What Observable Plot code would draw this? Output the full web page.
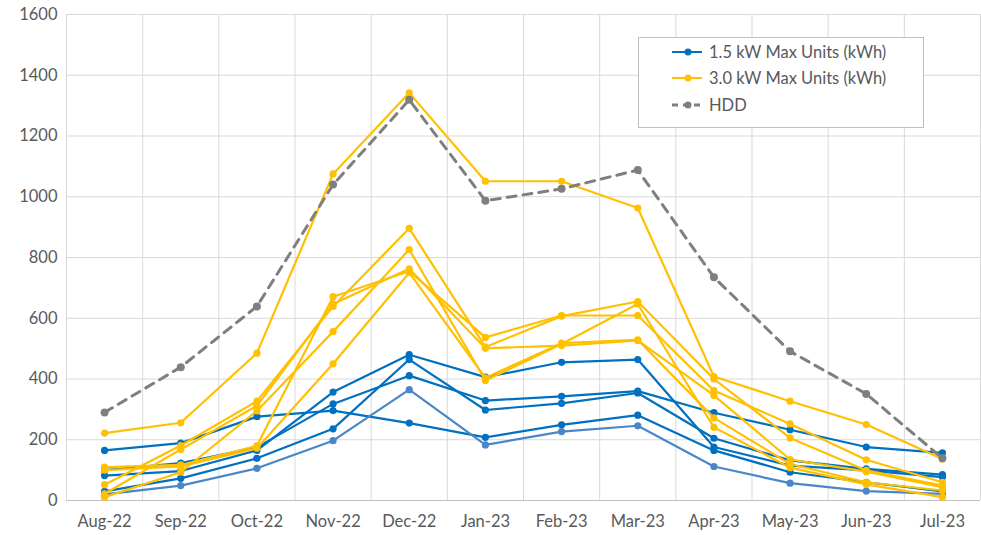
<!DOCTYPE html>
<html>
<head>
<meta charset="utf-8">
<script src="https://cdn.jsdelivr.net/npm/d3@7"></script>
<script src="https://cdn.jsdelivr.net/npm/@observablehq/plot@0.6"></script>
<style>
  html, body { margin: 0; padding: 0; background: #fff; }
  #wrap { position: relative; width: 981px; height: 535px; font-family: Lato, "Open Sans", sans-serif; }
  #legend { position: absolute; left: 638px; top: 37px; width: 286px; height: 91px; border: 1px solid #bfbfbf; background: #fff; box-sizing: border-box; }
  .row { position: absolute; left: 0; height: 20px; display: flex; align-items: center; font-size: 16.5px; color: #595959; white-space: nowrap; }
  .row svg { margin-left: 33px; margin-right: 7px; }
</style>
</head>
<body>
<div id="wrap"></div>
<script>
const months = ["Aug-22","Sep-22","Oct-22","Nov-22","Dec-22","Jan-23","Feb-23","Mar-23","Apr-23","May-23","Jun-23","Jul-23"];
const yTicks = [0, 200, 400, 600, 800, 1000, 1200, 1400, 1600];

// 1.5 kW Max Units (kWh)
const blueA = [82, 97, 165, 357, 480, 406, 455, 464, 176, 115, 99, 77];
const blueB = [30, 73, 139, 236, 464, 298, 320, 354, 205, 132, 104, 85];
const blueC = [100, 123, 175, 318, 411, 329, 343, 360, 289, 233, 176, 157];
const blueD = [165, 189, 276, 296, 255, 208, 249, 281, 165, 93, 60, 30];
const blueE = [20, 49, 106, 197, 365, 183, 227, 246, 112, 57, 31, 22];

// 3.0 kW Max Units (kWh)
const yellow1 = [222, 256, 485, 1075, 1342, 1051, 1051, 963, 408, 327, 250, 137];
const yellow2 = [110, 117, 180, 671, 755, 537, 609, 609, 362, 252, 134, 60];
const yellow3 = [52, 181, 327, 639, 896, 505, 607, 655, 400, 206, 99, 49];
const yellow4 = [22, 168, 312, 647, 763, 501, 510, 527, 346, 135, 95, 44];
const yellow5 = [100, 112, 172, 450, 750, 404, 518, 529, 272, 120, 60, 33];
const yellow6 = [11, 93, 295, 556, 826, 395, 515, 647, 241, 108, 53, 11];

// HDD
const hdd = [290, 439, 639, 1040, 1319, 987, 1026, 1088, 735, 491, 351, 139];

const BLUE = "#0070C0", BLUE_LIGHT = "#4A86C8", YELLOW = "#FFC000", GRAY = "#7F7F7F";

const blueSeries = [[blueA, BLUE], [blueB, BLUE], [blueC, BLUE], [blueD, BLUE], [blueE, BLUE_LIGHT]];
const yellowSeries = [yellow1, yellow2, yellow3, yellow4, yellow5, yellow6].map(s => [s, YELLOW]);

const toRows = (vals, id) => vals.map((v, i) => ({i, v, id}));
const gridX = months.map((_, i) => i - 0.5).concat([months.length - 0.5]);

const marks = [
  Plot.ruleY(yTicks, {stroke: "#d9d9d9", strokeWidth: 1}),
  Plot.ruleX(gridX, {stroke: "#d9d9d9", strokeWidth: 1}),
  Plot.ruleY([0], {stroke: "#bfbfbf", strokeWidth: 1.2})
];
blueSeries.concat(yellowSeries).forEach(([vals, color], k) => {
  const rows = toRows(vals, k);
  marks.push(Plot.line(rows, {x: "i", y: "v", stroke: color, strokeWidth: 2.2}));
  marks.push(Plot.dot(rows, {x: "i", y: "v", fill: color, r: 3.6}));
});
const hddRows = toRows(hdd, "hdd");
marks.push(Plot.line(hddRows, {x: "i", y: "v", stroke: GRAY, strokeWidth: 3, strokeDasharray: "9,7"}));
marks.push(Plot.dot(hddRows, {x: "i", y: "v", fill: GRAY, r: 4}));

const chart = Plot.plot({
  width: 981,
  height: 535,
  marginLeft: 66,
  marginRight: 1,
  marginTop: 14,
  marginBottom: 35,
  style: {fontFamily: "Lato, 'Open Sans', sans-serif", fontSize: "16.5px", color: "#595959", background: "#fff"},
  x: {domain: [-0.5, months.length - 0.5], ticks: months.map((_, i) => i), tickFormat: i => months[i], tickSize: 0, tickPadding: 15, label: null},
  y: {domain: [0, 1600], ticks: yTicks, tickFormat: d => String(d), tickSize: 0, tickPadding: 9, label: null},
  marks
});
const wrap = document.getElementById("wrap");
wrap.appendChild(chart);

// Legend
const legend = document.createElement("div");
legend.id = "legend";
const items = [
  {label: "1.5 kW Max Units (kWh)", color: BLUE, dash: null, top: 4},
  {label: "3.0 kW Max Units (kWh)", color: YELLOW, dash: null, top: 30},
  {label: "HDD", color: GRAY, dash: "6,5", top: 57}
];
items.forEach(it => {
  const row = document.createElement("div");
  row.className = "row";
  row.style.top = it.top + "px";
  const s = d3.create("svg").attr("width", 30).attr("height", 12);
  s.append("line").attr("x1", 0).attr("x2", 30).attr("y1", 6).attr("y2", 6)
    .attr("stroke", it.color).attr("stroke-width", it.dash ? 3 : 2)
    .attr("stroke-dasharray", it.dash);
  s.append("circle").attr("cx", 16).attr("cy", 6).attr("r", 3.5).attr("fill", it.color);
  row.appendChild(s.node());
  const t = document.createElement("span");
  t.textContent = it.label;
  row.appendChild(t);
  legend.appendChild(row);
});
wrap.appendChild(legend);
</script>
</body>
</html>
